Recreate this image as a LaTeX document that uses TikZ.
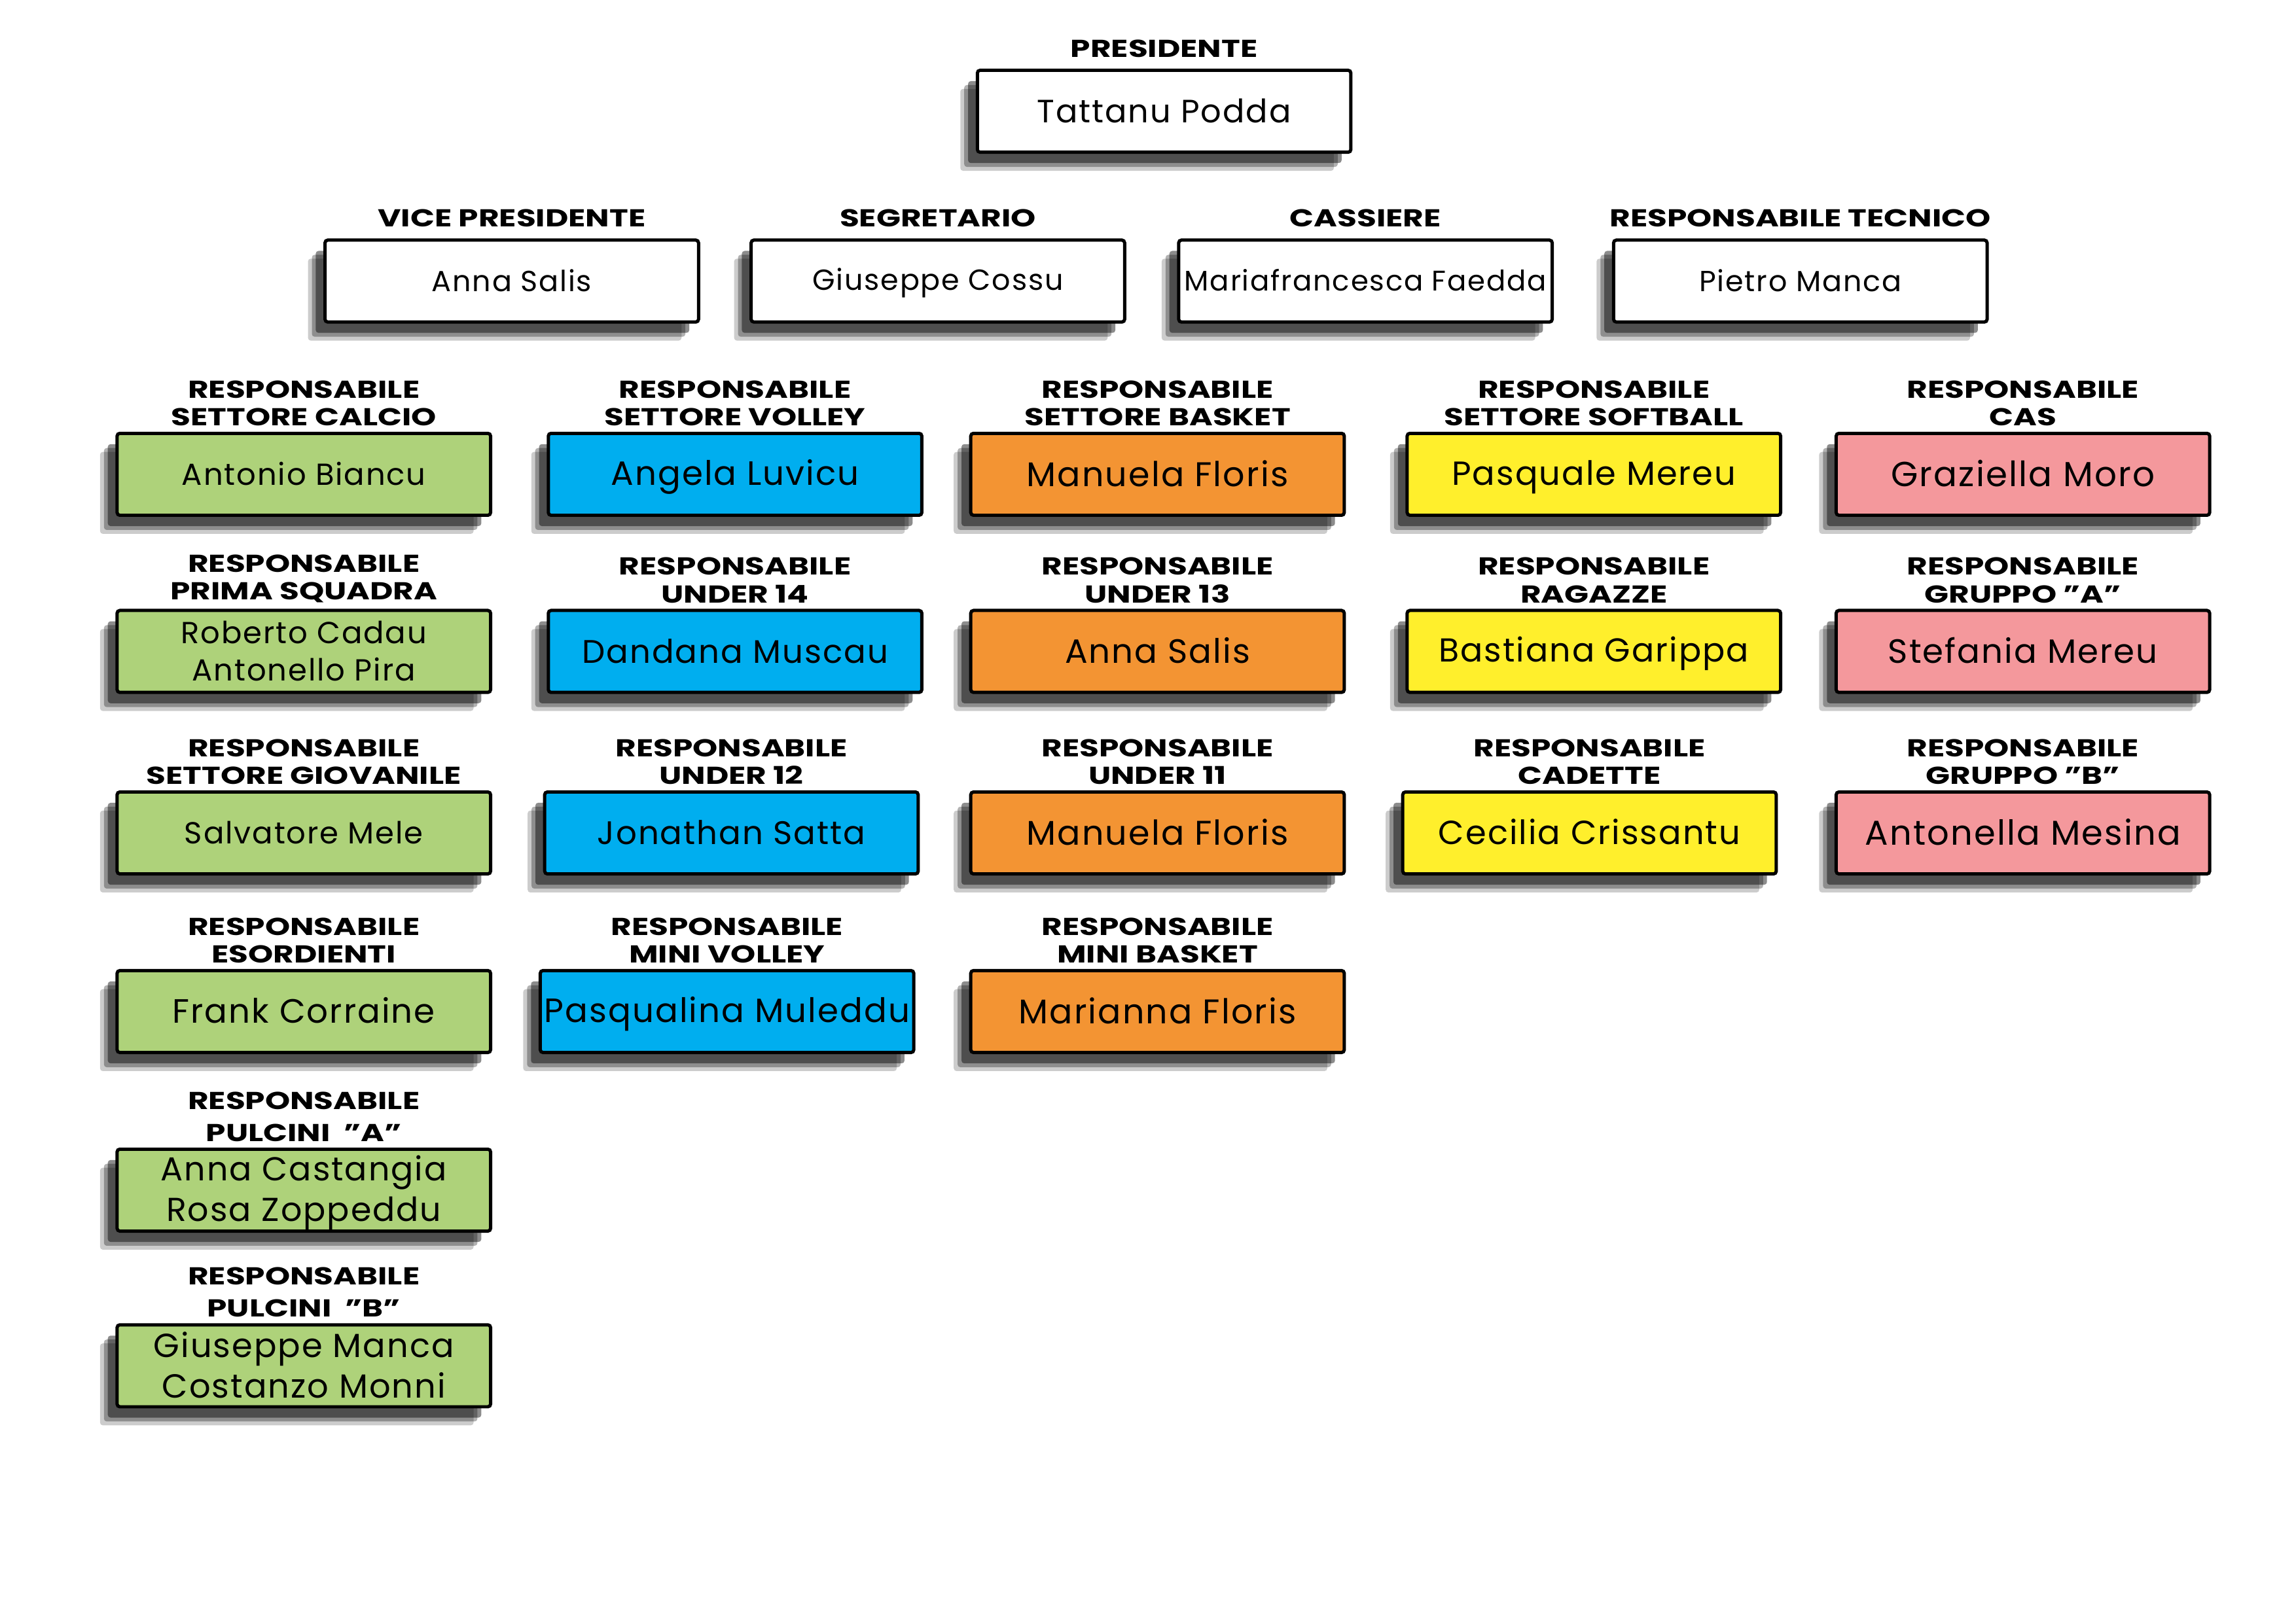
\documentclass[tikz,border=0pt]{standalone}
\usepackage{fontspec}
\setmainfont{Poppins}[LetterSpace=4]
\newfontfamily\ruolofont[FakeStretch=1.3]{Poppins}
\usetikzlibrary{positioning,shadows}
\definecolor{verde}{HTML}{AED27A}
\definecolor{azzurro}{HTML}{00AEEF}
\definecolor{arancio}{HTML}{F39433}
\definecolor{giallo}{HTML}{FFEF2C}
\definecolor{rosa}{HTML}{F4989C}
\newcommand*{\asta}{\rule[-.2em]{0pt}{1.1em}}
\tikzset{
  persona/.style={draw, line width=1.2pt, rounded corners=1pt, fill=white,
    minimum width=4.83cm, minimum height=1.06cm, inner sep=0pt, align=center,
    drop shadow={shadow xshift=-.22cm, shadow yshift=-.24cm, fill=black, opacity=.2},
    drop shadow={shadow xshift=-.17cm, shadow yshift=-.19cm, fill=black, opacity=.3},
    drop shadow={shadow xshift=-.12cm, shadow yshift=-.14cm, fill=black, opacity=.45}},
  ruolo/.style={inner sep=0pt, align=center,
    font=\ruolofont\bfseries\fontsize{9}{10.2}\selectfont},
}
% #1 font size, #2 name, #3 colour, #4 position, #5 role, #6 person
\newcommand*{\carica}[6][12.4]{%
  \pgfmathsetmacro\cbs{1.22*#1}%
  \node[persona, fill=#3, font=\fontsize{#1}{\cbs}\selectfont] (#2) at (#4) {\asta #6\asta};
  \node[ruolo, above=2pt of #2] (#2-t) {#5};}
% white boxes of the board
\newcommand*{\direttivo}[5][10.7]{%
  \node[persona, font=\fontsize{#1}{13}\selectfont] (#2) at (#3) {\asta #5};
  \node[ruolo, above=4pt of #2] (#2-t) {#4};}

\begin{document}
\begin{tikzpicture}[x=0.018941cm, y=-0.018941cm]
\useasboundingbox (0,0) rectangle (1568,1109);
% Direttivo
\direttivo[11.9]{pres}{795,76}{PRESIDENTE}{Tattanu Podda}
\direttivo{vice}{349.5,192}{VICE PRESIDENTE}{Anna Salis}
\direttivo{segr}{640.5,192}{SEGRETARIO}{Giuseppe Cossu}
\direttivo[10.45]{cass}{932.5,192}{CASSIERE}{Mariafrancesca Faedda}
\direttivo{tecn}{1229.5,192}{RESPONSABILE TECNICO}{Pietro Manca}
% Calcio
\carica[11.2]{calcio}{verde}{207.5,324}{RESPONSABILE\\SETTORE CALCIO}{Antonio Biancu}
\carica[11.2]{prima}{verde}{207.5,445}{RESPONSABILE\\PRIMA SQUADRA}{Roberto Cadau\\Antonello Pira}
\carica[11.2]{giov}{verde}{207.5,569}{RESPONSABILE\\SETTORE GIOVANILE}{Salvatore Mele}
\carica{esor}{verde}{207.5,691}{RESPONSABILE\\ESORDIENTI}{Frank Corraine}
\carica[12.2]{pulA}{verde}{207.5,813}{RESPONSABILE\\[1.6pt]PULCINI\ \ ”A”}{Anna Castangia\\Rosa Zoppeddu}
\carica[12.3]{pulB}{verde}{207.5,933}{RESPONSABILE\\[1.6pt]PULCINI\ \ ”B”}{Giuseppe Manca\\Costanzo Monni}
% Volley
\carica{volley}{azzurro}{502,324}{RESPONSABILE\\SETTORE VOLLEY}{Angela Luvicu}
\carica[12]{uquattordici}{azzurro}{502,445}{RESPONSABILE\\UNDER 14}{Dandana Muscau}
\carica[12]{udodici}{azzurro}{499.5,569}{RESPONSABILE\\UNDER 12}{Jonathan Satta}
\carica{minivolley}{azzurro}{496.5,691}{RESPONSABILE\\MINI VOLLEY}{Pasqualina Muleddu}
% Basket
\carica[12.6]{basket}{arancio}{790.5,324}{RESPONSABILE\\SETTORE BASKET}{Manuela Floris}
\carica{utredici}{arancio}{790.5,445}{RESPONSABILE\\UNDER 13}{Anna Salis}
\carica[12.6]{uundici}{arancio}{790.5,569}{RESPONSABILE\\UNDER 11}{Manuela Floris}
\carica[12.6]{minibasket}{arancio}{790.5,691}{RESPONSABILE\\MINI BASKET}{Marianna Floris}
% Softball
\carica[12.3]{softball}{giallo}{1088.5,324}{RESPONSABILE\\SETTORE SOFTBALL}{Pasquale Mereu}
\carica[12.2]{ragazze}{giallo}{1088.5,445}{RESPONSABILE\\RAGAZZE}{Bastiana Garippa}
\carica[12.3]{cadette}{giallo}{1085.5,569}{RESPONSABILE\\CADETTE}{Cecilia Crissantu}
% CAS
\carica[12.8]{cas}{rosa}{1381.5,324}{RESPONSABILE\\CAS}{Graziella Moro}
\carica{gruA}{rosa}{1381.5,445}{RESPONSABILE\\GRUPPO ”A”}{Stefania Mereu}
\carica[12.7]{gruB}{rosa}{1381.5,569}{RESPONSABILE\\GRUPPO ”B”}{Antonella Mesina}
\end{tikzpicture}
\end{document}
